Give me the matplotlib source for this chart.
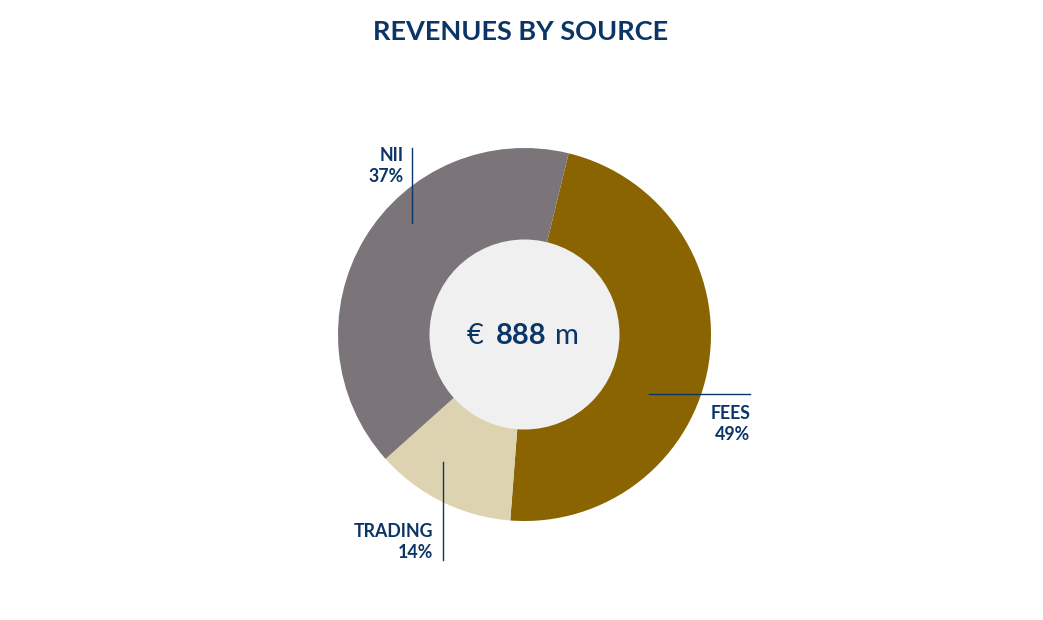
import matplotlib
matplotlib.use('Agg')
from matplotlib import pyplot as plt
from matplotlib.patches import Circle

# slice sizes as drawn (in € m, 888 total); printed shares kept as in the source
sources = ['FEES', 'TRADING', 'NII']
amounts = [421, 108, 359]
label_pcts = ['49%', '14%', '37%']
colours = ['#8a6400', '#ddd3b0', '#7b7479']
total_text = '888'

navy = '#0b3566'
plt.rc('font', family=['Lato', 'DejaVu Sans'])

fig = plt.figure(figsize=[10.43, 6.2], dpi=100)
ax = fig.add_axes([0, 0, 1, 1])

cx, cy = 524.5, 620 - 334.5
r_out, r_in = 186.5, 95

ax.pie(amounts, colors=colours, radius=r_out, center=(cx, cy),
       startangle=90 - 13.7, counterclock=False, frame=True,
       wedgeprops=dict(linewidth=0))
ax.set_xlim(0, 1043)
ax.set_ylim(0, 620)
ax.set_aspect('equal')
ax.axis('off')
ax.add_patch(Circle((cx, cy), r_in, facecolor='#f0f0f0', edgecolor='none', zorder=3))

# centre text
ty = cy - 1
ax.text(467, ty, '€', ha='left', va='center', fontsize=21, color=navy, zorder=4)
ax.text(521, ty, total_text, ha='center', va='center', fontsize=21,
        fontweight='bold', color=navy, zorder=4)
ax.text(555, ty, 'm', ha='left', va='center', fontsize=21, color=navy, zorder=4)

# title
ax.text(521, 620 - 32, 'REVENUES BY SOURCE', ha='center', va='center',
        fontsize=19.5, fontweight='bold', color=navy)

# leader lines
lw = 1.0
ax.plot([412, 412], [620 - 148, 620 - 223], color=navy, lw=lw)
ax.plot([649, 750], [620 - 394, 620 - 394], color=navy, lw=lw)
ax.plot([443, 443], [620 - 462, 620 - 560], color=navy, lw=lw)

# labels
lab_kw = dict(ha='right', va='center', fontsize=12.8, fontweight='bold', color=navy,
              linespacing=1.3)
ax.text(404, 620 - 166, 'NII\n' + label_pcts[2], **lab_kw)
ax.text(750, 620 - 424, 'FEES\n' + label_pcts[0], **lab_kw)
ax.text(433, 620 - 542, 'TRADING\n' + label_pcts[1], **lab_kw)

fig.savefig('out.png', dpi=100, facecolor='white')
